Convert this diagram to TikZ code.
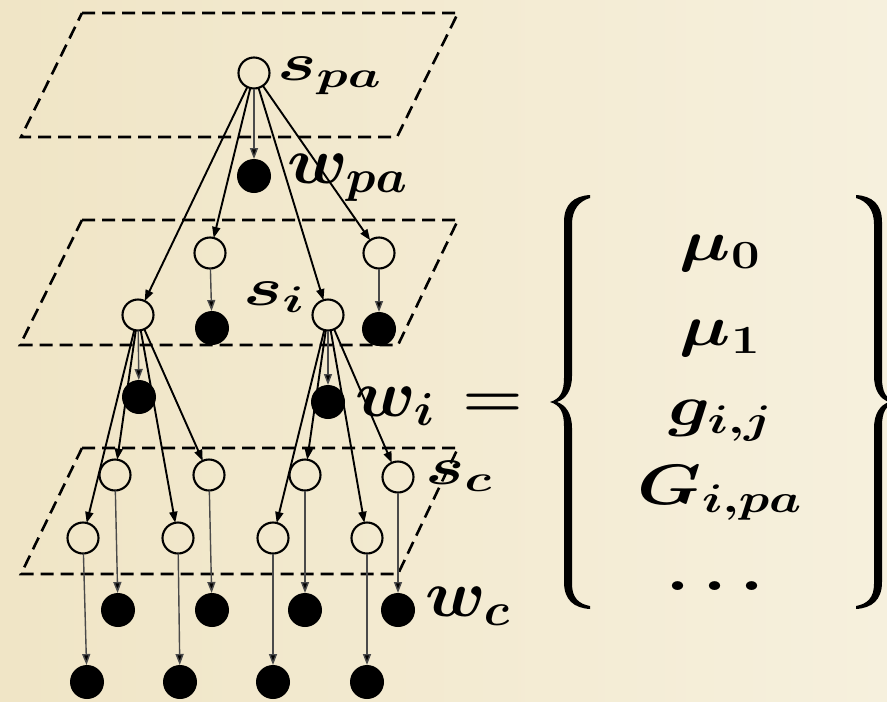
\RequirePackage{fix-cm}
\documentclass[tikz,border=0pt]{standalone}
\usepackage{amsmath}
\usepackage{graphicx}
\usetikzlibrary{arrows.meta}
\definecolor{paperL}{HTML}{F0E5C6}
\definecolor{paperR}{HTML}{F6F0DD}
\definecolor{vgray}{HTML}{4A4A4A}
\tikzset{
  curlybrace/.pic={
    \fill[black] (40,195) .. controls (24,196) and (14,204) .. (14,222)
      -- (14,378) .. controls (14,392) and (10,399) .. (0,402)
      .. controls (10,405) and (14,412) .. (14,426)
      -- (14,582) .. controls (14,600) and (24,608) .. (40,609)
      -- (40,606) .. controls (29,604) and (22,598) .. (22,584)
      -- (22,428) .. controls (22,414) and (16,405) .. (7,402)
      .. controls (16,399) and (22,390) .. (22,376)
      -- (22,224) .. controls (22,210) and (29,201) .. (40,198) -- cycle;
  }
}
\begin{document}
\begin{tikzpicture}[x=1pt,y=-1pt,
  snode/.style={circle,draw=black,line width=2.1pt,minimum size=31pt,inner sep=0pt,outer sep=0pt},
  wnode/.style={circle,fill=black,minimum size=34pt,inner sep=0pt,outer sep=0pt},
  edge/.style={line width=1.9pt,-{Triangle[length=11pt,width=8pt]}},
  vedge/.style={line width=1.4pt,draw=vgray,-{Triangle[length=11pt,width=8pt,fill=black]}},
  plane/.style={draw=black,line width=2.6pt,dash pattern=on 13pt off 7pt},
  slab/.style={anchor=base west,inner sep=0pt,font={\fontsize{53}{63}\selectfont\boldmath}},
  wlab/.style={anchor=base west,inner sep=0pt,font={\fontsize{66}{78}\selectfont\boldmath}},
  rlab/.style={anchor=base,inner sep=0pt,font={\fontsize{57}{68}\selectfont\boldmath}}]
\useasboundingbox (0,0) rectangle (887,702);
\shade[left color=paperL,right color=paperR] (0,0) rectangle (887,702);
% planes
\draw[plane] (82,13) -- (458,13) -- (397,137) -- (21,137) -- cycle;
\draw[plane] (82,220) -- (458,220) -- (398,345) -- (20,345) -- cycle;
\draw[plane] (82,448) -- (458,448) -- (398,574) -- (21,574) -- cycle;
% nodes
\node[snode] (spa) at (254,73) {};
\node[wnode] (wpa) at (254,176) {};
\node[snode] (a1) at (210,253) {};
\node[snode] (a2) at (379,253) {};
\node[snode] (si1) at (138,315) {};
\node[snode] (si2) at (328,315) {};
\node[wnode] (f1) at (212,328) {};
\node[wnode] (f2) at (379,329) {};
\node[wnode] (wi1) at (139,397) {};
\node[wnode] (wi2) at (328,402) {};
\node[snode] (c1) at (115,475) {};
\node[snode] (c2) at (209,475) {};
\node[snode] (c3) at (305,475) {};
\node[snode] (c4) at (398,477) {};
\node[snode] (d1) at (83,538) {};
\node[snode] (d2) at (178,538) {};
\node[snode] (d3) at (273,538) {};
\node[snode] (d4) at (367,538) {};
\node[wnode] (e1) at (118,610) {};
\node[wnode] (e2) at (212,610) {};
\node[wnode] (e3) at (305,610) {};
\node[wnode] (e4) at (398,610) {};
\node[wnode] (g1) at (87,682) {};
\node[wnode] (g2) at (180,682) {};
\node[wnode] (g3) at (273,682) {};
\node[wnode] (g4) at (367,682) {};
% edges
\draw[edge] (spa) -- (si1);
\draw[edge] (spa) -- (a1);
\draw[vedge] (spa) -- (wpa);
\draw[edge] (spa) -- (si2);
\draw[edge] (spa) -- (a2);
\draw[vedge] (a1) -- (f1);
\draw[vedge] (a2) -- (f2);
\draw[vedge] (si1) -- (wi1);
\draw[edge] (si1) -- (c1);
\draw[edge] (si1) -- (d1);
\draw[edge] (si1) -- (d2);
\draw[edge] (si1) -- (c2);
\draw[vedge] (si2) -- (wi2);
\draw[edge] (si2) -- (c3);
\draw[edge] (si2) -- (d3);
\draw[edge] (si2) -- (d4);
\draw[edge] (si2) -- (c4);
\foreach \k in {1,2,3,4}{
  \draw[vedge] (c\k) -- (e\k);
  \draw[vedge] (d\k) -- (g\k);
}
% labels
\node[slab] (Lspa) at (277,80) {\scalebox{1.4}[1]{$s_{pa}$}};
\node[wlab] (Lwpa) at (287,183) {\scalebox{1.07}[1]{$w_{pa}$}};
\node[slab] (Lsi) at (243,305) {\scalebox{1.4}[1]{$s_i$}};
\node[wlab] (Lwi) at (355,416) {\scalebox{1.07}[1]{$w_i$}};
\node[slab] (Lsc) at (425,484) {\scalebox{1.4}[1]{$s_c$}};
\node[wlab] (Lwc) at (425,616) {\scalebox{1.07}[1]{$w_c$}};
% right side
\node[anchor=base west,inner sep=0pt,font={\fontsize{58}{70}\selectfont\boldmath}] (eq) at (462,416) {\scalebox{1.2}[1]{$=$}};
\pic (lb) at (550,0) {curlybrace};
\pic[xscale=-1] (rb) at (896,0) {curlybrace};
\node[rlab] (m0) at (720,260) {\scalebox{1.27}[1]{$\mu_0$}};
\node[rlab] (m1) at (720,345) {\scalebox{1.27}[1]{$\mu_1$}};
\node[rlab] (gij) at (720,425) {\scalebox{1.27}[1]{$g_{i,j}$}};
\node[rlab] (Gip) at (720,504) {\scalebox{1.27}[1]{$G_{i,pa}$}};
\node[rlab] (dd) at (722,590) {\scalebox{1.27}[1]{$\dots$}};
\end{tikzpicture}
\end{document}
